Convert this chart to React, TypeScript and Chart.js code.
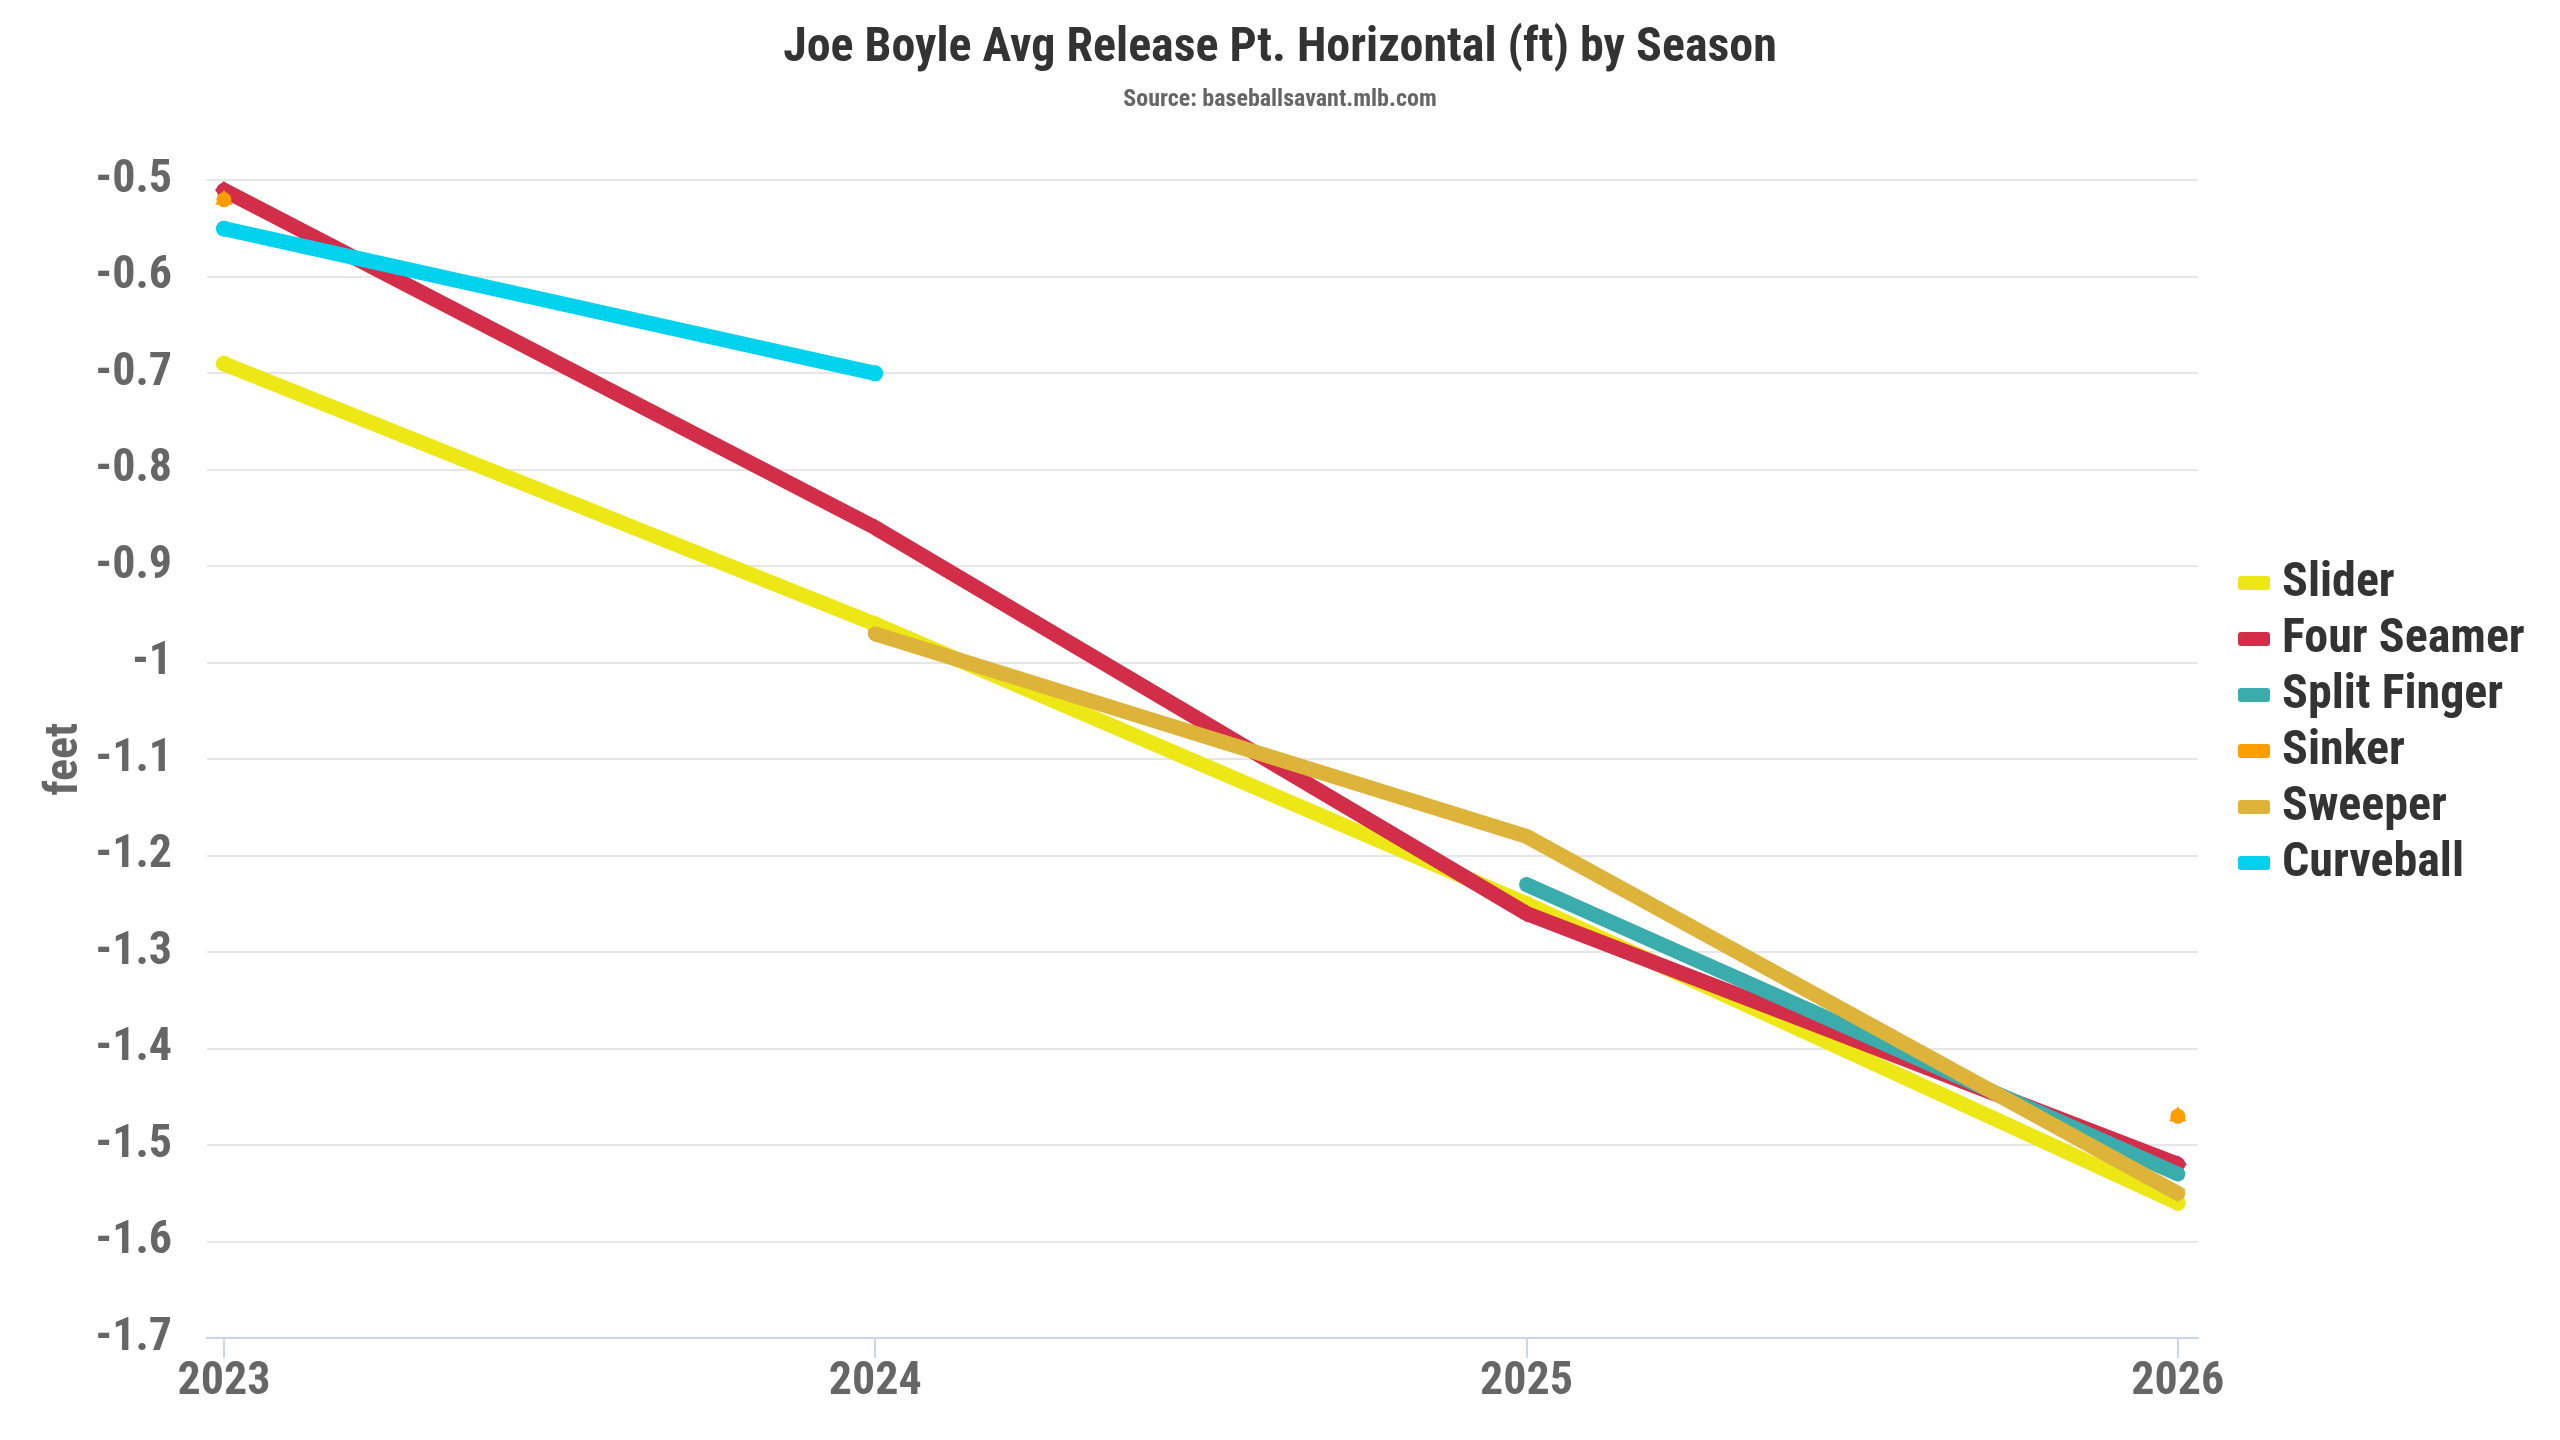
import React, { useEffect, useRef } from "react";
import { Chart, registerables } from "chart.js";

Chart.register(...registerables);

const YEARS = [2023, 2024, 2025, 2026];
const SLIDER = [-0.69, -0.96, -1.25, -1.56];
const FOUR_SEAMER = [-0.51, -0.86, -1.26, -1.52];
const SPLIT_FINGER = [null, null, -1.23, -1.53];
const SINKER = [-0.52, null, null, -1.47];
const SWEEPER = [null, -0.97, -1.18, -1.55];
const CURVEBALL = [-0.55, -0.7, null, null];
const Y_TICKS = [-1.7, -1.6, -1.5, -1.4, -1.3, -1.2, -1.1, -1.0, -0.9, -0.8, -0.7, -0.6, -0.5];

const FONT = "'Roboto Condensed', 'Liberation Sans Narrow', 'DejaVu Sans Condensed', Roboto, sans-serif";

const SERIES = [
  { label: "Slider", values: SLIDER, color: "#eee716", style: "circle", rot: 0, r: 8 },
  { label: "Four Seamer", values: FOUR_SEAMER, color: "#d22d49", style: "rectRot", rot: 0, r: 9 },
  { label: "Split Finger", values: SPLIT_FINGER, color: "#3bacac", style: "rect", rot: 0, r: 8 },
  { label: "Sinker", values: SINKER, color: "#fe9d00", style: "triangle", rot: 0, r: 10 },
  { label: "Sweeper", values: SWEEPER, color: "#ddb33a", style: "triangle", rot: 180, r: 9 },
  { label: "Curveball", values: CURVEBALL, color: "#00d1ed", style: "circle", rot: 0, r: 8 },
];

const legendPlugin = {
  id: "sideLegend",
  afterDraw(chart: any) {
    const ctx = chart.ctx;
    const ds = chart.data.datasets;
    const rowH = 56;
    const startY = chart.height / 2 + 3 - ((ds.length - 1) * rowH) / 2;
    const boxX = chart.chartArea.right + 40;
    ctx.save();
    ctx.font = `bold 48px ${FONT}`;
    ctx.textBaseline = "middle";
    ctx.textAlign = "left";
    ds.forEach((d: any, i: number) => {
      const y = startY + i * rowH;
      ctx.fillStyle = d.borderColor;
      ctx.beginPath();
      if ((ctx as any).roundRect) (ctx as any).roundRect(boxX, y - 7, 32, 14, 3);
      else ctx.rect(boxX, y - 7, 32, 14);
      ctx.fill();
      ctx.fillStyle = "#333333";
      ctx.fillText(d.label, boxX + 44, y + 1);
    });
    ctx.restore();
  },
};

export default function App() {
  const ref = useRef<HTMLCanvasElement>(null);
  useEffect(() => {
    document.body.style.margin = "0";
    document.body.style.overflow = "hidden";
    const n = SERIES.length;
    const chart = new Chart(ref.current as HTMLCanvasElement, {
      type: "line",
      data: {
        datasets: SERIES.map((s, i) => ({
          label: s.label,
          data: YEARS.map((yr, j) => ({ x: yr, y: s.values[j] })),
          borderColor: s.color,
          backgroundColor: s.color,
          pointBackgroundColor: s.color,
          pointBorderWidth: 0,
          pointRadius: s.r,
          pointStyle: s.style as any,
          pointRotation: s.rot,
          borderWidth: 15,
          borderCapStyle: "round",
          borderJoinStyle: "round",
          spanGaps: false,
          tension: 0,
          order: n - i,
          yAxisID: "y",
        })),
      },
      options: {
        animation: false,
        responsive: true,
        maintainAspectRatio: false,
        layout: { padding: { left: 0, right: 0, top: 0, bottom: 0 } },
        plugins: {
          legend: { display: false },
          tooltip: { enabled: false },
          title: {
            display: true,
            text: "Joe Boyle Avg Release Pt. Horizontal (ft) by Season",
            color: "#333333",
            font: { family: FONT, size: 48, weight: "bold" },
            padding: { top: 20, bottom: 0 },
          },
          subtitle: {
            display: true,
            text: "Source: baseballsavant.mlb.com",
            color: "#666666",
            font: { family: FONT, size: 24, weight: "bold" },
            padding: { top: 7.5, bottom: 66.5 },
          },
        },
        scales: {
          x: {
            type: "linear",
            min: 2022.974,
            max: 2026.031,
            afterBuildTicks: (scale: any) => {
              scale.ticks = YEARS.map((v) => ({ value: v }));
            },
            afterFit: (scale: any) => {
              scale.height = 102;
            },
            ticks: {
              color: "#666666",
              font: { family: FONT, size: 46, weight: "bold" },
              padding: -3,
              maxRotation: 0,
              autoSkip: false,
              callback: (v: any) => String(v),
            },
            grid: {
              drawOnChartArea: false,
              drawTicks: true,
              tickLength: 20,
              color: "#ccd6eb",
              lineWidth: 2,
            },
            border: { display: true, color: "#ccd6eb", width: 2 },
          },
          y: {
            position: "left",
            min: -1.7,
            max: -0.5,
            afterBuildTicks: (scale: any) => {
              scale.ticks = Y_TICKS.map((v) => ({ value: v }));
            },
            afterFit: (scale: any) => {
              scale.width = 207;
            },
            ticks: {
              color: "#666666",
              font: { family: FONT, size: 46, weight: "bold" },
              padding: 35,
              callback: (v: any) => String(Number(Number(v).toFixed(1))),
            },
            grid: { color: "#e6e6e6", lineWidth: 2, drawTicks: false },
            border: { display: false },
            title: {
              display: true,
              text: "feet",
              color: "#666666",
              font: { family: FONT, size: 46, weight: "bold" },
              padding: { top: 38, bottom: 0 },
            },
          },
          legendSpace: {
            type: "linear",
            position: "right",
            display: true,
            afterFit: (scale: any) => {
              scale.width = 362;
            },
            ticks: { display: false },
            grid: { display: false },
            border: { display: false },
          },
        },
      },
      plugins: [legendPlugin],
    });
    return () => chart.destroy();
  }, []);
  return (
    <div style={{ position: "relative", width: "2560px", height: "1440px" }}>
      <canvas ref={ref} />
    </div>
  );
}
